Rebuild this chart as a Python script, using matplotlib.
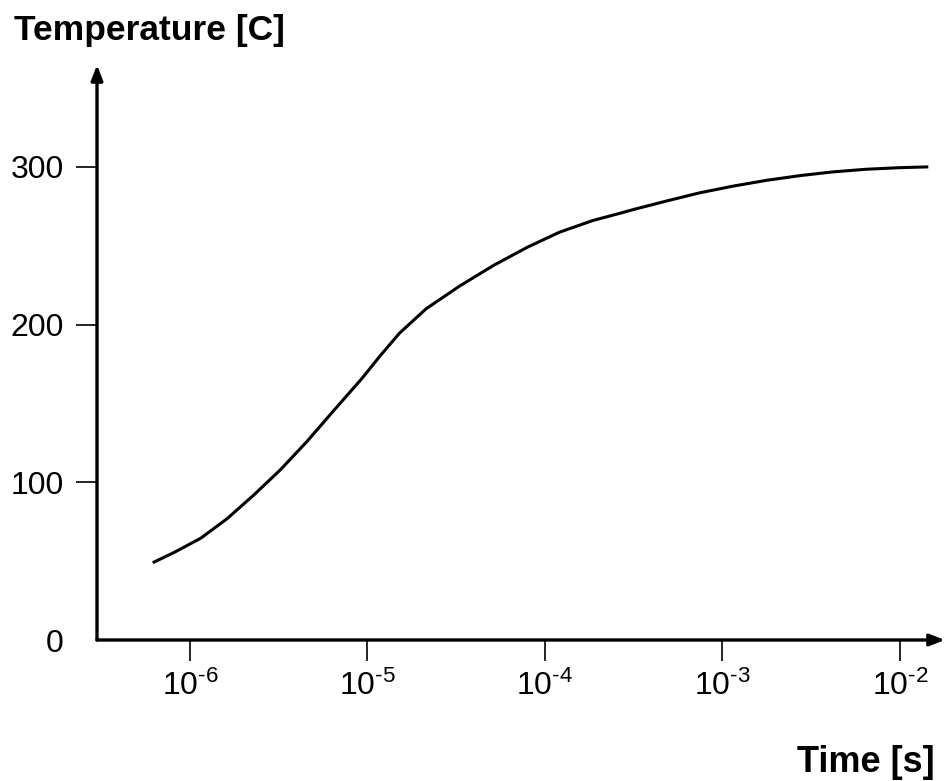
import numpy as np
import matplotlib
matplotlib.use("Agg")
import matplotlib.pyplot as plt

plt.rcParams['font.family'] = ['Liberation Sans', 'DejaVu Sans']
plt.rcParams['mathtext.fontset'] = 'custom'
plt.rcParams['mathtext.rm'] = 'Liberation Sans'
plt.rcParams['mathtext.it'] = 'Liberation Sans'

# curve: log10(time in s) and temperature in C
log_time = [-6.21, -6.09, -5.94, -5.79, -5.64, -5.49, -5.34, -5.19, -5.03,
            -4.93, -4.82, -4.67, -4.48, -4.29, -4.10, -3.92, -3.73, -3.58,
            -3.50, -3.31, -3.13, -2.94, -2.75, -2.56, -2.38, -2.19, -2.00, -1.84]
temperature = [49, 55.5, 64.5, 77, 92, 108, 126, 145.5, 166,
               180, 194.5, 210, 224.5, 237.5, 249, 258.5, 266, 270.5,
               273, 278.5, 283.5, 287.8, 291.5, 294.5, 296.8, 298.5, 299.5, 300]

x_ticks = [1e-6, 1e-5, 1e-4, 1e-3, 1e-2]
x_tick_labels = ['$10^{\u20106}$', '$10^{\u20105}$', '$10^{\u20104}$',
                 '$10^{\u20103}$', '$10^{\u20102}$']
y_ticks = [0, 100, 200, 300]

fig = plt.figure(figsize=(9.49, 7.81), dpi=100)
ax = fig.add_axes([97 / 949, 141 / 781, (945 - 97) / 949, (640 - 65) / 781])

t = 10 ** np.array(log_time)
ax.plot(t, temperature, color='black', lw=2.2, solid_capstyle='butt',
        solid_joinstyle='round')

ax.set_xscale('log')
ax.set_xlim(10 ** -6.524, 10 ** -1.746)
ax.set_ylim(0, 364.6)

ax.set_xticks(x_ticks)
ax.set_xticklabels(x_tick_labels)
ax.xaxis.set_minor_locator(matplotlib.ticker.NullLocator())
ax.set_yticks(y_ticks)

for s in ax.spines.values():
    s.set_visible(False)

ax.tick_params(axis='both', direction='out', length=15, width=1.2,
               labelsize=23, color='black')
ax.tick_params(axis='x', pad=7)
ax.tick_params(axis='y', pad=9)
ax.yaxis.get_major_ticks()[0].tick1line.set_visible(False)

# axes drawn as arrows
arrow = dict(arrowstyle='-|>,head_length=0.9,head_width=0.35', lw=2.4,
             color='black', shrinkA=0, shrinkB=0)
ax.annotate('', xy=(1.0, 0), xytext=(0, 0), xycoords='axes fraction', arrowprops=arrow)
ax.annotate('', xy=(0, 1.0), xytext=(0, 0), xycoords='axes fraction', arrowprops=arrow)

fig.text(14 / 949, 1 - 40 / 781, 'Temperature [C]', fontsize=25.5,
         fontweight='bold', ha='left', va='baseline')
fig.text(935 / 949, 1 - 772 / 781, 'Time [s]', fontsize=26,
         fontweight='bold', ha='right', va='baseline')

fig.savefig('out.png', dpi=100)
